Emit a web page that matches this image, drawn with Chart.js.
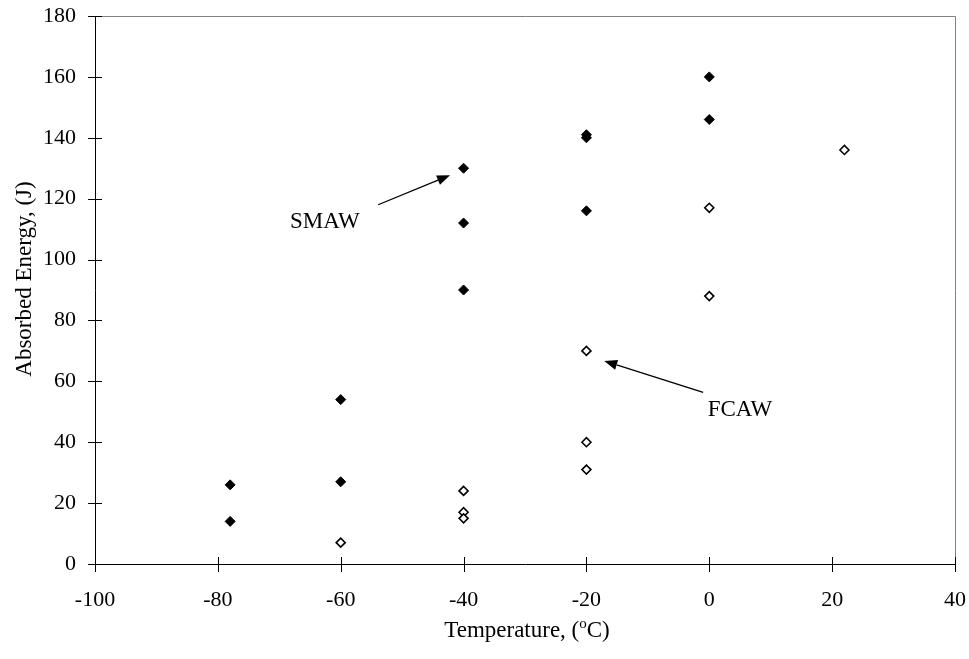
<!DOCTYPE html>
<html>
<head>
<meta charset="utf-8">
<script src="https://cdn.jsdelivr.net/npm/chart.js@4.4.1/dist/chart.umd.min.js"></script>
<style>
  html, body { margin: 0; padding: 0; background: #fff; }
  #wrap { width: 969px; height: 659px; }
</style>
</head>
<body>
<div id="wrap"><canvas id="c" width="969" height="659"></canvas></div>
<script>
// Charpy impact results: temperature (°C) vs absorbed energy (J)
const smawTemp   = [-78, -78, -60, -60, -40, -40, -40, -20, -20, -20, 0, 0];
const smawEnergy = [26, 14, 54, 27, 130, 112, 90, 141, 140, 116, 160, 146];
const fcawTemp   = [-60, -40, -40, -40, -20, -20, -20, 0, 0, 22];
const fcawEnergy = [7, 24, 17, 15, 70, 40, 31, 117, 88, 136];

const xTicks = [-100, -80, -60, -40, -20, 0, 20, 40];
const yTicks = [0, 20, 40, 60, 80, 100, 120, 140, 160, 180];

// annotation callouts: label position, arrow tail and arrow tip (data units)
const callouts = [
  { text: 'SMAW', label: [-62.6, 112.4], tail: [-53.9, 118], tip: [-42.2, 127.7] },
  { text: 'FCAW', label: [5.0, 50.6],    tail: [-1.0, 56.4], tip: [-17.1, 66.7] }
];

const FONT = '"Liberation Serif", "Times New Roman", serif';

const toPoints = (xs, ys) => xs.map((x, i) => ({ x, y: ys[i] }));

const decorations = {
  id: 'decorations',
  afterDraw(chart) {
    const { ctx, chartArea: a, scales: { x, y } } = chart;
    ctx.save();
    // frame: gray top/right, black axes
    ctx.lineWidth = 1;
    ctx.strokeStyle = '#808080';
    ctx.beginPath();
    ctx.moveTo(a.left, a.top + 0.5); ctx.lineTo(a.right + 0.5, a.top + 0.5);
    ctx.lineTo(a.right + 0.5, a.bottom);
    ctx.stroke();
    ctx.strokeStyle = '#000';
    ctx.beginPath();
    ctx.moveTo(a.left + 0.5, a.top); ctx.lineTo(a.left + 0.5, a.bottom + 0.5);
    ctx.lineTo(a.right + 0.5, a.bottom + 0.5);
    ctx.stroke();
    // cross tick marks
    ctx.beginPath();
    yTicks.forEach(v => {
      const py = Math.round(y.getPixelForValue(v)) + 0.5;
      ctx.moveTo(a.left - 7, py); ctx.lineTo(a.left + 7, py);
    });
    xTicks.forEach(v => {
      const px = Math.round(x.getPixelForValue(v)) + 0.5;
      ctx.moveTo(px, a.bottom - 7); ctx.lineTo(px, a.bottom + 8);
    });
    ctx.stroke();

    // axis titles
    ctx.fillStyle = '#000';
    ctx.textBaseline = 'middle';
    ctx.textAlign = 'center';
    ctx.font = '23px ' + FONT;
    ctx.save();
    ctx.translate(25, 279);
    ctx.rotate(-Math.PI / 2);
    ctx.fillText('Absorbed Energy, (J)', 0, 0);
    ctx.restore();

    const p1 = 'Temperature, (', p2 = 'o', p3 = 'C)';
    ctx.font = '23px ' + FONT;
    const w1 = ctx.measureText(p1).width, w3 = ctx.measureText(p3).width;
    ctx.font = '15px ' + FONT;
    const w2 = ctx.measureText(p2).width;
    const tw = w1 + w2 + w3;
    const sx = 527 - tw / 2;
    const ty = 631;
    ctx.textAlign = 'left';
    ctx.font = '23px ' + FONT;
    ctx.fillText(p1, sx, ty);
    ctx.font = '15px ' + FONT;
    ctx.fillText(p2, sx + w1, ty - 7);
    ctx.font = '23px ' + FONT;
    ctx.fillText(p3, sx + w1 + w2, ty);

    // callouts
    callouts.forEach(c => {
      const lx = x.getPixelForValue(c.label[0]), ly = y.getPixelForValue(c.label[1]);
      ctx.font = '23px ' + FONT;
      ctx.textAlign = 'center';
      ctx.fillText(c.text, lx, ly);
      const x0 = x.getPixelForValue(c.tail[0]), y0 = y.getPixelForValue(c.tail[1]);
      const x1 = x.getPixelForValue(c.tip[0]),  y1 = y.getPixelForValue(c.tip[1]);
      const ang = Math.atan2(y1 - y0, x1 - x0);
      const hl = 13, hw = 5;
      const bx = x1 - hl * Math.cos(ang), by = y1 - hl * Math.sin(ang);
      ctx.lineWidth = 1.3;
      ctx.beginPath();
      ctx.moveTo(x0, y0); ctx.lineTo(bx, by);
      ctx.stroke();
      ctx.beginPath();
      ctx.moveTo(x1, y1);
      ctx.lineTo(bx + hw * Math.sin(ang), by - hw * Math.cos(ang));
      ctx.lineTo(bx - hw * Math.sin(ang), by + hw * Math.cos(ang));
      ctx.closePath();
      ctx.fill();
    });
    ctx.restore();
  }
};

new Chart(document.getElementById('c'), {
  type: 'scatter',
  data: {
    datasets: [
      {
        label: 'SMAW',
        data: toPoints(smawTemp, smawEnergy),
        pointStyle: 'rectRot',
        pointRadius: 5,
        backgroundColor: '#000',
        borderColor: '#000',
        borderWidth: 1
      },
      {
        label: 'FCAW',
        data: toPoints(fcawTemp, fcawEnergy),
        pointStyle: 'rectRot',
        pointRadius: 4.5,
        backgroundColor: '#fff',
        borderColor: '#000',
        borderWidth: 1.6
      }
    ]
  },
  options: {
    responsive: false,
    animation: false,
    devicePixelRatio: 1,
    layout: { padding: { top: 16, right: 14, left: 0, bottom: 0 } },
    plugins: { legend: { display: false }, tooltip: { enabled: false } },
    scales: {
      x: {
        type: 'linear',
        min: -100, max: 40,
        afterBuildTicks: s => { s.ticks = xTicks.map(v => ({ value: v })); },
        afterFit: s => { s.height = 95; s.paddingLeft = 0; s.paddingRight = 0; },
        grid: { display: false, drawTicks: false },
        border: { display: false },
        ticks: { color: '#000', font: { family: FONT, size: 22 }, padding: 23, maxRotation: 0 }
      },
      y: {
        type: 'linear',
        min: 0, max: 180,
        afterBuildTicks: s => { s.ticks = yTicks.map(v => ({ value: v })); },
        afterFit: s => { s.width = 95; s.paddingTop = 0; s.paddingBottom = 0; },
        grid: { display: false, drawTicks: false },
        border: { display: false },
        ticks: { color: '#000', font: { family: FONT, size: 22 }, padding: 19 }
      }
    }
  },
  plugins: [decorations]
});
</script>
</body>
</html>
